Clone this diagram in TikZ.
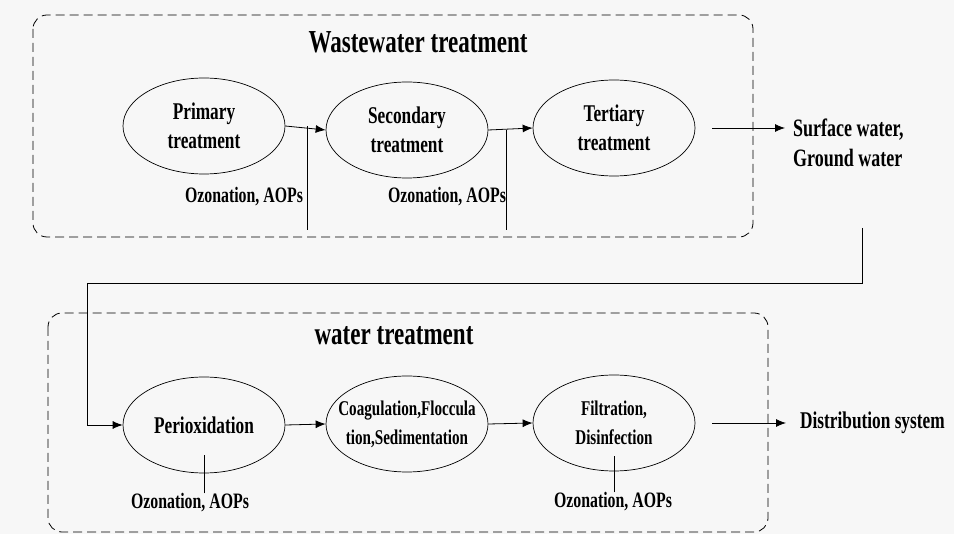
\documentclass[tikz,border=0pt]{standalone}
\usepackage{fontspec}
\setmainfont{Liberation Serif}[FakeStretch=0.72]
\usetikzlibrary{shapes.geometric,arrows.meta}
\definecolor{paper}{RGB}{247,247,247}

\begin{document}
\begin{tikzpicture}[x=1pt,y=-1pt,
  stage/.style={ellipse,draw,line width=0.7pt,minimum width=162pt,minimum height=96pt,
    inner sep=0pt,align=center,font=\bfseries\fontsize{24}{29}\selectfont},
  smallstage/.style={stage,font=\bfseries\fontsize{21}{29}\selectfont},
  box/.style={draw,dash pattern=on 9pt off 5pt,rounded corners=14pt,line width=0.8pt},
  flow/.style={-{Latex[length=10pt,width=8pt]},line width=0.8pt},
  tag/.style={inner sep=0pt,font=\bfseries\fontsize{22}{30}\selectfont},
  title/.style={inner sep=0pt,font=\bfseries\fontsize{32}{36}\selectfont}]
\useasboundingbox[fill=paper] (0,0) rectangle (954,534);

% wastewater treatment
\draw[box] (33,15) rectangle (753,237);
\node[title] (ww) at (418,42) {Wastewater treatment};
\node[stage] (pri) at (204,126) {Primary\\treatment};
\node[stage] (sec) at (407,130) {Secondary\\treatment};
\node[stage] (ter) at (614,128) {Tertiary\\treatment};
\node[tag,font=\bfseries\fontsize{25}{30}\selectfont,anchor=west,align=left] (sw) at (793,143) {Surface water,\\Ground water};
\node[tag] (oz1) at (244,197) {Ozonation, AOPs};
\node[tag] (oz2) at (447,197) {Ozonation, AOPs};
\coordinate (in1) at (307,230);
\coordinate (in2) at (506,230);

\draw[flow] (pri.east) -- (sec.west);
\draw[flow] (sec.east) -- (ter.west);
\draw[flow,shorten >=8pt] (ter.east) ++(17,0) -- (sw.west |- ter.east);
\draw[line width=0.8pt] (in1) -- (in1 |- pri.east);
\draw[line width=0.8pt] (in2) -- (in2 |- sec.east);

% water treatment
\draw[box] (48,313) rectangle (768,532);
\node[title] (wt) at (394,336) {water treatment};
\node[stage] (per) at (204,425) {Perioxidation};
\node[smallstage,inner xsep=-25pt] (coa) at (407,424) {Coagulation,Floccula\\tion,Sedimentation};
\node[smallstage] (fil) at (614,423) {Filtration,\\Disinfection};
\node[tag,font=\bfseries\fontsize{24}{30}\selectfont,anchor=west] (ds) at (800,423) {Distribution system};
\node[tag] (oz3) at (190,503) {Ozonation, AOPs};
\node[tag] (oz4) at (613,502) {Ozonation, AOPs};

\draw[flow] (per.east) -- (coa.west);
\draw[flow] (coa.east) -- (fil.west);
\draw[flow,shorten >=14pt] (fil.east) ++(17,0) -- (ds.west);
\draw[line width=0.8pt] (oz3.north -| per.center) -- ++(0,-38);
\draw[line width=0.8pt] (oz4.north -| fil.center) -- ++(0,-36);

% link between the two plants
\coordinate (drop) at (862,228);
\coordinate (turn) at (87,283);
\draw[flow] (drop) |- (turn) |- (per.west);
\end{tikzpicture}
\end{document}
